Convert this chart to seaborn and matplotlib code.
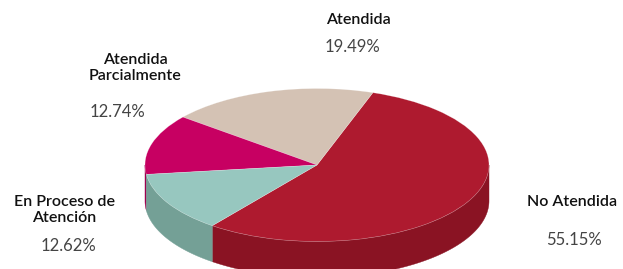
import numpy as np
import seaborn as sns
import matplotlib.pyplot as plt

# data
labels = ["No Atendida", "Atendida", "Atendida\nParcialmente", "En Proceso de\nAtención"]
values = [55.15, 19.49, 12.74, 12.62]
top_colors = ["#AE1A2F", "#D4C2B4", "#C70062", "#97C7BF"]
side_colors = ["#8A1323", "#A8998E", "#9E004E", "#74A096"]

# label positions in pixels (center x, title y, percent y)
label_pos = [(572, 202, 240), (358, 20, 47), (135, 68, 112), (64, 210, 246)]
pct_dx = [2, -6, -18, 4]

W, H = 623, 269
cx, cy = 317, 165      # pie center in px
rx, ry = 172, 76.5     # ellipse radii in px
depth = 36 / ry        # thickness in data units
start = -127.5

sns.set_theme(style="white")
plt.rcParams['font.family'] = ['Lato', 'DejaVu Sans']

fig = plt.figure(figsize=(W / 100, H / 100), dpi=100)
ax = fig.add_axes([0, 0, 1, 1])

# side walls (front half only)
bounds = start + np.concatenate([[0], np.cumsum(values)]) * 3.6
for i in range(len(values)):
    a1, a2 = bounds[i], bounds[i + 1]
    for k in range(-2, 2):
        lo = max(a1, 180 + 360 * k)
        hi = min(a2, 360 + 360 * k)
        if hi <= lo:
            continue
        t = np.radians(np.linspace(lo, hi, 100))
        xs = np.concatenate([np.cos(t), np.cos(t[::-1])])
        ys = np.concatenate([np.sin(t), np.sin(t[::-1]) - depth])
        ax.fill(xs, ys, color=side_colors[i], lw=0.3, ec=side_colors[i])

ax.pie(values, colors=top_colors, startangle=start, counterclock=True,
       radius=1, center=(0, 0), frame=True,
       wedgeprops=dict(linewidth=0.4, edgecolor=(1, 1, 1, 0.35)))

ax.set_aspect('auto')
ax.set_xlim(-cx / rx, (W - cx) / rx)
ax.set_ylim(-(H - cy) / ry, cy / ry)
ax.axis('off')

for i, lab in enumerate(labels):
    x, ty, py = label_pos[i]
    fig.text(x / W, 1 - ty / H, lab, ha='center', va='center', fontsize=11.5,
             color='#111111', linespacing=1.2, fontweight='semibold')
    fig.text((x + pct_dx[i]) / W, 1 - py / H, f"{values[i]:.2f}%", ha='center',
             va='center', fontsize=12, color='#444444', fontweight='normal')

fig.savefig("out.png", dpi=100)
